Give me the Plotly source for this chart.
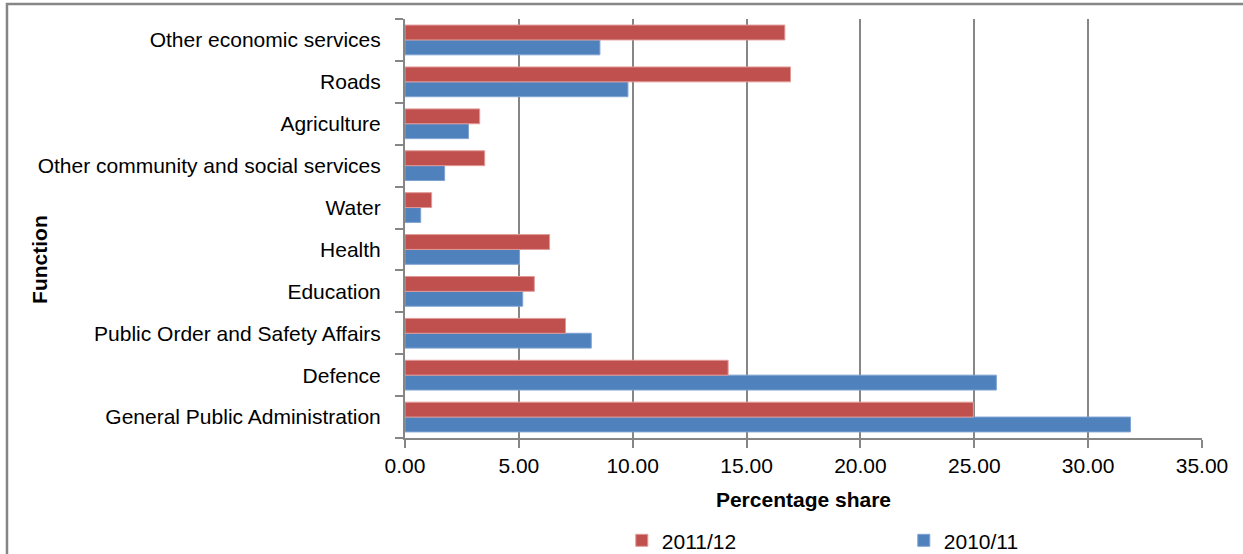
import plotly.graph_objects as go

# Functions listed bottom -> top as they appear on the axis
funciones = [
    'General Public Administration',
    'Defence',
    'Public Order and Safety Affairs',
    'Education',
    'Health',
    'Water',
    'Other community and social services',
    'Agriculture',
    'Roads',
    'Other economic services',
]
share_2010_11 = [31.86, 25.97, 8.18, 5.17, 5.03, 0.69, 1.74, 2.79, 9.79, 8.56]
share_2011_12 = [24.96, 14.19, 7.05, 5.68, 6.35, 1.17, 3.50, 3.28, 16.93, 16.68]
x_ticks = [0, 5, 10, 15, 20, 25, 30, 35]

FUENTE = 'Liberation Sans, Arial, sans-serif'
GRIS = '#868686'

fig = go.Figure()

# first trace sits at the bottom of each group
fig.add_trace(go.Bar(
    y=funciones, x=share_2010_11, name='2010/11', orientation='h',
    marker=dict(color='#4F81BD', line=dict(color='#7FA3D2', width=1))
))
fig.add_trace(go.Bar(
    y=funciones, x=share_2011_12, name='2011/12', orientation='h',
    marker=dict(color='#C0504D', line=dict(color='#E29A98', width=1))
))

# outer chart border (extends past the right/bottom edges like the source)
fig.add_shape(type='rect', xref='paper', yref='paper',
              x0=-0.4994, x1=1.2, y0=-0.5, y1=1.0358,
              line=dict(color=GRIS, width=2.5), layer='below')

fig.add_annotation(text='<b>Function</b>', textangle=-90,
                   xref='paper', yref='paper', x=(40 - 405) / 797, y=0.425,
                   xanchor='center', yanchor='middle',
                   showarrow=False, font=dict(size=21, color='black', family=FUENTE))

fig.update_layout(
    width=1243, height=554,
    margin=dict(l=405, r=41, t=19, b=116, autoexpand=False),
    paper_bgcolor='white', plot_bgcolor='white',
    font=dict(family=FUENTE, size=21, color='black'),
    barmode='group', bargap=0.29, bargroupgap=0,
    showlegend=True,
    legend=dict(orientation='h', traceorder='reversed',
                x=0.272, xanchor='left', y=-0.245, yanchor='middle',
                entrywidth=237, entrywidthmode='pixels',
                font=dict(size=21), itemclick=False),
    xaxis=dict(
        range=[0, 35], tickvals=x_ticks, tickformat='.2f',
        showgrid=True, gridcolor=GRIS, gridwidth=2,
        showline=True, linecolor=GRIS, linewidth=2,
        ticks='outside', ticklen=8, tickcolor=GRIS, tickwidth=2,
        zeroline=False,
        title=dict(text='<b>Percentage share</b>', standoff=16,
                   font=dict(size=21)),
    ),
    yaxis=dict(
        type='category', showgrid=False,
        showline=True, linecolor=GRIS, linewidth=2,
        ticks='outside', ticklen=8, tickcolor=GRIS, tickwidth=2,
        tickson='boundaries', ticklabelstandoff=18,
    ),
)

# quitar el margen por defecto del body para que la figura quede en (0, 0)
fig.write_html('out.html', config={'displayModeBar': False},
               post_script="document.body.style.margin='0';")
